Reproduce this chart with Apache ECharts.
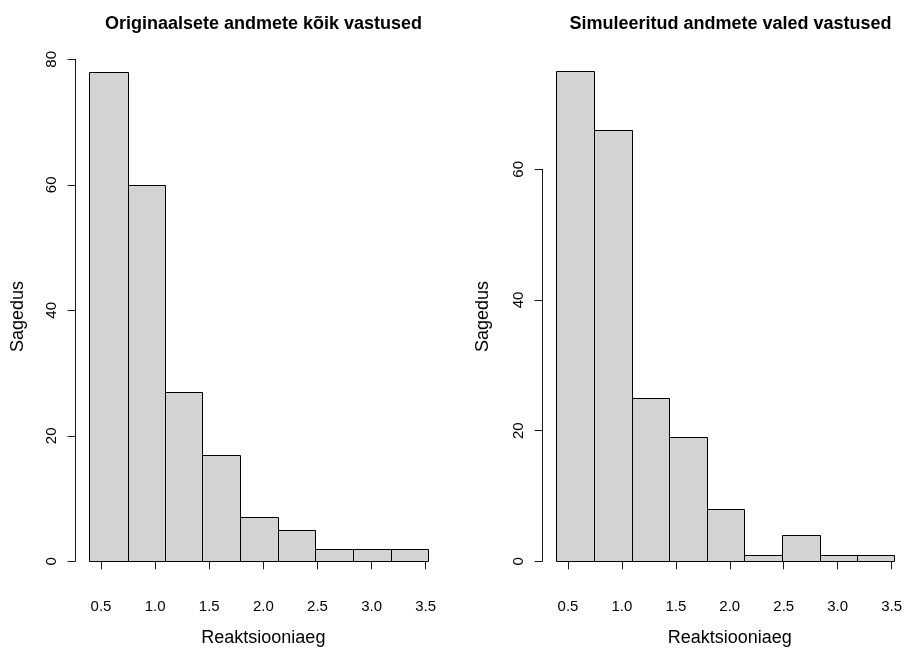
<!DOCTYPE html>
<html>
<head>
<meta charset="utf-8">
<script src="https://cdn.jsdelivr.net/npm/echarts@6/dist/echarts.min.js"></script>
<style>html,body{margin:0;padding:0;background:#fff}#c{width:905px;height:653px}</style>
</head>
<body>
<div id="c"></div>
<script>
// Histogram bin breaks (Reaktsiooniaeg)
var breaks = [0.39, 0.745, 1.09, 1.437, 1.787, 2.133, 2.481, 2.832, 3.177, 3.52];
// Counts per bin
var countsOriginal = [78, 60, 27, 17, 7, 5, 2, 2, 2];
var countsSimulated = [75, 66, 25, 19, 8, 1, 4, 1, 1];
// Tick labels
var xTicks = [0.5, 1.0, 1.5, 2.0, 2.5, 3.0, 3.5];
var titles = ['Originaalsete andmete kõik vastused', 'Simuleeritud andmete valed vastused'];
var xName = 'Reaktsiooniaeg';
var yName = 'Sagedus';

function binData(counts) {
  var out = [];
  for (var i = 0; i < counts.length; i++) out.push([breaks[i], breaks[i + 1], counts[i]]);
  return out;
}

var FONT = '"Liberation Sans", Arial, Helvetica, sans-serif';
var AX = '#1a1a1a';

function renderBar(params, api) {
  var a = api.coord([api.value(0), 0]);
  var b = api.coord([api.value(1), api.value(2)]);
  var x0 = Math.round(a[0]) + 0.5, x1 = Math.round(b[0]) + 0.5;
  var y0 = Math.round(a[1]) + 0.5, y1 = Math.round(b[1]) + 0.5;
  return {
    type: 'rect',
    shape: { x: x0, y: y1, width: x1 - x0, height: y0 - y1 },
    style: { fill: '#D3D3D3', stroke: '#000', lineWidth: 1 }
  };
}

function xAxisCfg(gi) {
  return {
    gridIndex: gi, type: 'value', min: 0.5, max: 3.5, interval: 0.5,
    offset: 20,
    name: xName, nameLocation: 'middle', nameGap: 48,
    nameTextStyle: { fontFamily: FONT, fontSize: 18, color: '#000' },
    axisLine: { show: true, lineStyle: { color: AX, width: 1 } },
    axisTick: { show: true, length: 8, lineStyle: { color: AX } },
    axisLabel: { fontFamily: FONT, fontSize: 15, color: '#000', margin: 18,
      formatter: function (v) { return v.toFixed(1); } },
    splitLine: { show: false }
  };
}
function yAxisCfg(gi, max) {
  return {
    gridIndex: gi, type: 'value', min: 0, max: max, interval: 20,
    offset: 25.5,
    axisLine: { show: true, lineStyle: { color: AX, width: 1 } },
    axisTick: { show: true, length: 8, lineStyle: { color: AX } },
    axisLabel: { fontFamily: FONT, fontSize: 15, color: '#000', margin: 16, rotate: 90 },
    splitLine: { show: false }
  };
}

function yTitle(cx) {
  return {
    type: 'text', x: cx, y: 316.5, rotation: Math.PI / 2,
    style: { text: yName, fontFamily: FONT, fontSize: 18, fill: '#000',
      textAlign: 'center', textVerticalAlign: 'middle' }
  };
}

var chart = echarts.init(document.getElementById('c'), null, { renderer: 'canvas' });
chart.setOption({
  animation: false,
  backgroundColor: '#fff',
  title: [
    { text: titles[0], left: 258.5, top: 10, textAlign: 'center',
      textStyle: { fontFamily: FONT, fontSize: 18, fontWeight: 'bold', color: '#000' } },
    { text: titles[1], left: 725.5, top: 10, textAlign: 'center',
      textStyle: { fontFamily: FONT, fontSize: 18, fontWeight: 'bold', color: '#000' } }
  ],
  graphic: [yTitle(18), yTitle(483)],
  grid: [
    { left: 101, top: 59.3, width: 324.7, height: 502 },
    { left: 568, top: 169.3, width: 324.7, height: 392 }
  ],
  xAxis: [xAxisCfg(0), xAxisCfg(1)],
  yAxis: [yAxisCfg(0, 80), yAxisCfg(1, 60)],
  series: [
    { type: 'custom', xAxisIndex: 0, yAxisIndex: 0, clip: false, renderItem: renderBar,
      encode: { x: [0, 1], y: 2 }, data: binData(countsOriginal) },
    { type: 'custom', xAxisIndex: 1, yAxisIndex: 1, clip: false, renderItem: renderBar,
      encode: { x: [0, 1], y: 2 }, data: binData(countsSimulated) }
  ]
});
</script>
</body>
</html>
